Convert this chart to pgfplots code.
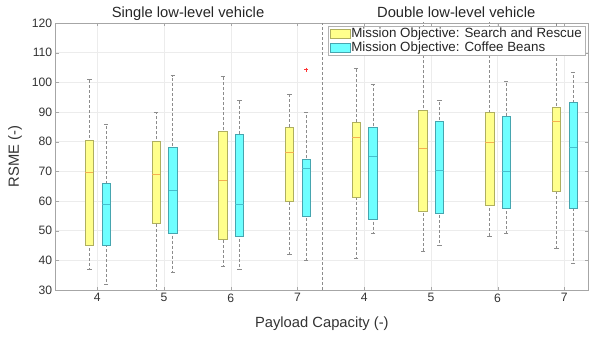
\documentclass[border=0pt]{standalone}
\usepackage{fontspec}
\setmainfont{Liberation Sans}
\usepackage{pgfplots}
\usepackage{pgfplotstable}
\pgfplotsset{compat=1.18}
\definecolor{yfill}{RGB}{255,255,140}
\definecolor{yedge}{RGB}{175,175,95}
\definecolor{ymed}{RGB}{245,175,80}
\definecolor{cfill}{RGB}{110,255,255}
\definecolor{cedge}{RGB}{70,165,175}
\definecolor{cmed}{RGB}{70,190,205}
\definecolor{wcol}{RGB}{140,140,140}
% x = draw position, lw/lq/med/uq/uw = whisker and quartile values
\pgfplotstableread{
x    lw   lq   med  uq   uw
0.88 37   45   69.5 80.5 101
1.88 28   52.5 69   80   90
2.88 38   47   67   83.5 102
3.88 42   60   76.5 85   96
4.88 40.7 61.4 81.6 86.7 104.8
5.88 43   56.5 77.7 90.6 125
6.88 48   58.5 79.6 90   125
7.88 44   63.4 87   91.7 125
}\ydata
\pgfplotstableread{
x    lw   lq   med  uq   uw
1.13 32   45   59   66   86
2.13 36   49   63.5 78   102.3
3.13 37   48   59   82.5 94
4.13 40   55   71   74   90
5.13 49   54   75   85   99.3
6.13 45   56   70.4 87   94
7.13 49   57.5 70   88.5 100.4
8.13 39   57.5 78   93.2 103.5
}\cdata
\pgfplotsset{
  whisk/.style={draw=none, mark=none, forget plot,
    error bars/.cd, y dir=both, y explicit,
    error bar style={draw=wcol, line width=0.5pt, dash pattern=on 3bp off 2bp},
    error mark options={draw=wcol, solid, line width=0.5pt, mark size=2.2bp, rotate=90}},
  ybx/.style={draw=yedge, fill=yfill, line width=0.5pt, mark=none, forget plot},
  cbx/.style={draw=cedge, fill=cfill, line width=0.5pt, mark=none, forget plot},
  ymd/.style={draw=ymed, line width=0.8pt, mark=none, forget plot},
  cmd/.style={draw=cmed, line width=0.8pt, mark=none, forget plot},
}
\begin{document}
\begin{tikzpicture}
\useasboundingbox (-55.7bp,-47bp) rectangle (533.3bp,290bp);
\begin{axis}[
  scale only axis, width=532.3bp, height=267bp,
  xmin=0.376, xmax=8.355, ymin=30, ymax=120,
  xtick={1,2,3,4,5,6,7,8}, xticklabels={4,5,6,7,4,5,6,7},
  ytick={30,40,50,60,70,80,90,100,110,120},
  tick align=inside, major tick length=3bp,
  xtick pos=both, ytick pos=both,
  axis line style={gray!70},
  tick style={gray!70},
  grid=major, grid style={gray!15, line width=0.4pt},
  /pgf/number format/assume math mode=true,
  ticklabel style={font=\fontsize{12.2}{14}\selectfont, text=black!80},
  xlabel={Payload Capacity (-)},
  ylabel={RSME (-)},
  label style={font=\fontsize{14.8}{16}\selectfont, text=black!80},
  xlabel style={at={(axis description cs:0.5,-0.1423)}, anchor=base},
  ylabel style={at={(axis description cs:-0.0765,0.5)}, anchor=center},
  legend cell align=left,
  legend style={at={(1,1)}, anchor=north east, xshift=-3bp, yshift=-3.3bp,
    draw=gray!60, fill=white, inner xsep=2bp, inner ysep=0.5bp, row sep=0pt,
    font=\fontsize{13.4}{15}\selectfont, text=black!85,
    nodes={inner xsep=1bp, inner ysep=1.3bp}},
]
\addlegendimage{legend image code/.code={\draw[draw=yedge, fill=yfill] (0bp,-4.5bp) rectangle (20bp,4.5bp);}}
\addlegendentry{Mission Objective: Search and Rescue}
\addlegendimage{legend image code/.code={\draw[draw=cedge, fill=cfill] (0bp,-4.5bp) rectangle (20bp,4.5bp);}}
\addlegendentry{Mission Objective: Coffee Beans}
% whiskers
\addplot[whisk] table[x=x, y=med, y error plus expr=\thisrow{uw}-\thisrow{med}, y error minus expr=\thisrow{med}-\thisrow{lw}] {\ydata};
\addplot[whisk] table[x=x, y=med, y error plus expr=\thisrow{uw}-\thisrow{med}, y error minus expr=\thisrow{med}-\thisrow{lw}] {\cdata};
% boxes (x from draw position -/+ 0.0625), quartiles from the tables above
\addplot[ybx] coordinates {(0.8175,45) (0.9425,45) (0.9425,80.5) (0.8175,80.5)} -- cycle;
\addplot[ybx] coordinates {(1.8175,52.5) (1.9425,52.5) (1.9425,80) (1.8175,80)} -- cycle;
\addplot[ybx] coordinates {(2.8175,47) (2.9425,47) (2.9425,83.5) (2.8175,83.5)} -- cycle;
\addplot[ybx] coordinates {(3.8175,60) (3.9425,60) (3.9425,85) (3.8175,85)} -- cycle;
\addplot[ybx] coordinates {(4.8175,61.4) (4.9425,61.4) (4.9425,86.7) (4.8175,86.7)} -- cycle;
\addplot[ybx] coordinates {(5.8175,56.5) (5.9425,56.5) (5.9425,90.6) (5.8175,90.6)} -- cycle;
\addplot[ybx] coordinates {(6.8175,58.5) (6.9425,58.5) (6.9425,90) (6.8175,90)} -- cycle;
\addplot[ybx] coordinates {(7.8175,63.4) (7.9425,63.4) (7.9425,91.7) (7.8175,91.7)} -- cycle;
\addplot[cbx] coordinates {(1.0675,45) (1.1925,45) (1.1925,66) (1.0675,66)} -- cycle;
\addplot[cbx] coordinates {(2.0675,49) (2.1925,49) (2.1925,78) (2.0675,78)} -- cycle;
\addplot[cbx] coordinates {(3.0675,48) (3.1925,48) (3.1925,82.5) (3.0675,82.5)} -- cycle;
\addplot[cbx] coordinates {(4.0675,55) (4.1925,55) (4.1925,74) (4.0675,74)} -- cycle;
\addplot[cbx] coordinates {(5.0675,54) (5.1925,54) (5.1925,85) (5.0675,85)} -- cycle;
\addplot[cbx] coordinates {(6.0675,56) (6.1925,56) (6.1925,87) (6.0675,87)} -- cycle;
\addplot[cbx] coordinates {(7.0675,57.5) (7.1925,57.5) (7.1925,88.5) (7.0675,88.5)} -- cycle;
\addplot[cbx] coordinates {(8.0675,57.5) (8.1925,57.5) (8.1925,93.2) (8.0675,93.2)} -- cycle;
% medians
\addplot[ymd] coordinates {(0.8175,69.5) (0.9425,69.5)};
\addplot[ymd] coordinates {(1.8175,69) (1.9425,69)};
\addplot[ymd] coordinates {(2.8175,67) (2.9425,67)};
\addplot[ymd] coordinates {(3.8175,76.5) (3.9425,76.5)};
\addplot[ymd] coordinates {(4.8175,81.6) (4.9425,81.6)};
\addplot[ymd] coordinates {(5.8175,77.7) (5.9425,77.7)};
\addplot[ymd] coordinates {(6.8175,79.6) (6.9425,79.6)};
\addplot[ymd] coordinates {(7.8175,87) (7.9425,87)};
\addplot[cmd] coordinates {(1.0675,59) (1.1925,59)};
\addplot[cmd] coordinates {(2.0675,63.5) (2.1925,63.5)};
\addplot[cmd] coordinates {(3.0675,59) (3.1925,59)};
\addplot[cmd] coordinates {(4.0675,71) (4.1925,71)};
\addplot[cmd] coordinates {(5.0675,75) (5.1925,75)};
\addplot[cmd] coordinates {(6.0675,70.4) (6.1925,70.4)};
\addplot[cmd] coordinates {(7.0675,70) (7.1925,70)};
\addplot[cmd] coordinates {(8.0675,78) (8.1925,78)};
% outlier
\addplot[forget plot, only marks, mark=+, red!80, mark size=2bp] coordinates {(4.13,104.3)};
% group separator
\addplot[forget plot, mark=none, draw=wcol, line width=0.5pt, dash pattern=on 3bp off 2bp] coordinates {(4.37,30) (4.37,120)};
\end{axis}
\node[anchor=base, font=\fontsize{14.8}{16}\selectfont, text=black!85] at (132.35bp,272.4bp) {Single low-level vehicle};
\node[anchor=base, font=\fontsize{14.8}{16}\selectfont, text=black!85] at (400.5bp,272.4bp) {Double low-level vehicle};
\end{tikzpicture}
\end{document}
